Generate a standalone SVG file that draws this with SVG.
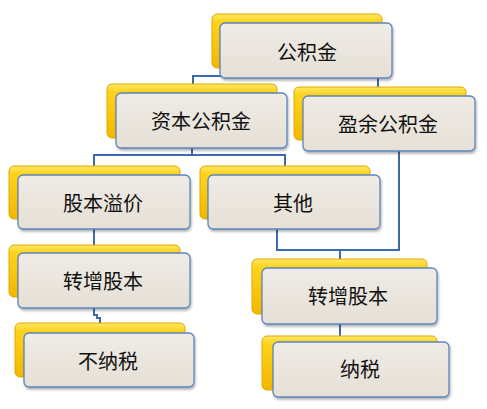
<svg xmlns="http://www.w3.org/2000/svg" width="487" height="409" viewBox="0 0 487 409">
<defs>
<linearGradient id="yg" x1="0" y1="0" x2="0" y2="1">
<stop offset="0" stop-color="#FFE866"/>
<stop offset="0.15" stop-color="#FFD21A"/>
<stop offset="1" stop-color="#F2B800"/>
</linearGradient>
<linearGradient id="fg" x1="0" y1="0" x2="0" y2="1">
<stop offset="0" stop-color="#EFECE6"/>
<stop offset="1" stop-color="#E6E0D6"/>
</linearGradient>
<filter id="sh" x="-10%" y="-10%" width="125%" height="130%">
<feDropShadow dx="1" dy="2" stdDeviation="1.2" flood-color="#000" flood-opacity="0.3"/>
</filter>
</defs>
<style>
.back{fill:url(#yg);stroke:#E0A800;stroke-width:1}
.front{fill:url(#fg);stroke:#5C84BE;stroke-width:1.3;filter:url(#sh)}
.lbl{font-family:"Noto Sans CJK SC","Noto Sans",sans-serif;font-size:20px;fill:#111;text-anchor:middle;dominant-baseline:central}
.conn{fill:none;stroke:#3D6AAE;stroke-width:2}
</style>
<g id="connectors">
<path class="conn" d="M193,93 V76 H378 V96"/>
<path class="conn" d="M305,78 V76"/>
<path class="conn" d="M192,148 V155 H94 V166"/>
<path class="conn" d="M192,155 H285 V166"/>
<path class="conn" d="M94,229 V245"/>
<path class="conn" d="M94,308 V315 H97 V318 H100 V323"/>
<path class="conn" d="M399,151 V250 H277 V229"/>
<path class="conn" d="M340,250 V259"/>
<path class="conn" d="M340,324 V336"/>
</g>
<g id="n1">
<rect class="back" x="212" y="14" width="170" height="54" rx="5"/>
<rect class="front" x="220" y="23" width="172" height="55" rx="5"/>
<text class="lbl" x="307" y="51">公积金</text>
</g>
<g id="n2">
<rect class="back" x="107" y="84" width="170" height="54" rx="5"/>
<rect class="front" x="116" y="93" width="171" height="55" rx="5"/>
<text class="lbl" x="201" y="120">资本公积金</text>
</g>
<g id="n3">
<rect class="back" x="294" y="87" width="172" height="53" rx="5"/>
<rect class="front" x="303" y="96" width="172" height="55" rx="5"/>
<text class="lbl" x="388" y="123">盈余公积金</text>
</g>
<g id="n4">
<rect class="back" x="9" y="166" width="171" height="53" rx="5"/>
<rect class="front" x="18" y="175" width="172" height="54" rx="5"/>
<text class="lbl" x="103" y="202">股本溢价</text>
</g>
<g id="n5">
<rect class="back" x="200" y="166" width="170" height="53" rx="5"/>
<rect class="front" x="208" y="175" width="172" height="54" rx="5"/>
<text class="lbl" x="293" y="202">其他</text>
</g>
<g id="n6">
<rect class="back" x="9" y="245" width="171" height="52" rx="5"/>
<rect class="front" x="18" y="253" width="172" height="55" rx="5"/>
<text class="lbl" x="103" y="280">转增股本</text>
</g>
<g id="n7">
<rect class="back" x="15" y="323" width="170" height="54" rx="5"/>
<rect class="front" x="24" y="333" width="170" height="54" rx="5"/>
<text class="lbl" x="108" y="360">不纳税</text>
</g>
<g id="n8">
<rect class="back" x="252" y="259" width="175" height="55" rx="5"/>
<rect class="front" x="262" y="268" width="175" height="56" rx="5"/>
<text class="lbl" x="348" y="295">转增股本</text>
</g>
<g id="n9">
<rect class="back" x="262" y="336" width="175" height="54" rx="5"/>
<rect class="front" x="273" y="342" width="176" height="55" rx="5"/>
<text class="lbl" x="360" y="368">纳税</text>
</g>
</svg>
